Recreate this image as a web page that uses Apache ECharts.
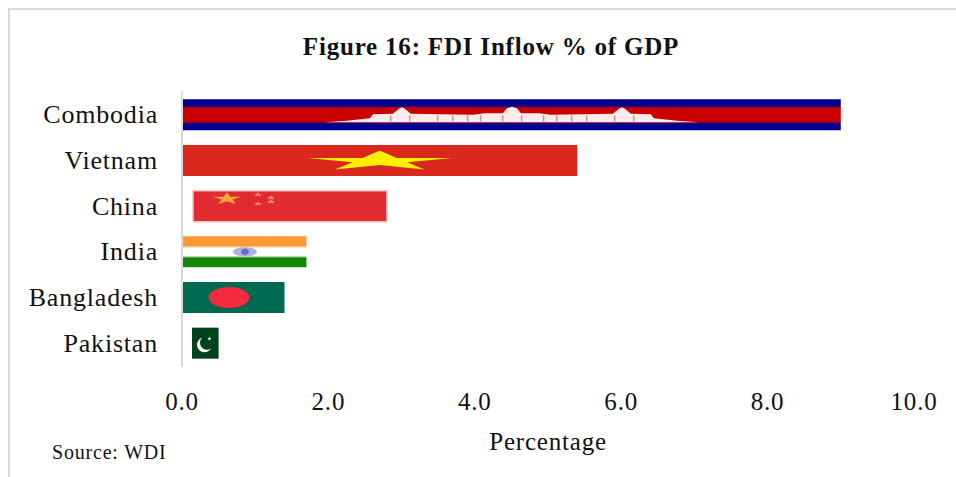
<!DOCTYPE html>
<html>
<head>
<meta charset="utf-8">
<title>FDI Inflow</title>
<script src="https://cdn.jsdelivr.net/npm/echarts@6/dist/echarts.min.js"></script>
<style>
	* {
		margin: 0;
		padding: 0;
	}

	body {
		background: #fff;
	}

	#main {
		width: 956px;
		height: 477px;
	}

	#main text {
		letter-spacing: 0.8px;
	}
</style>
</head>
<body>
<div id="main"></div>
<script>
	var categories = ['Combodia', 'Vietnam', 'China', 'India', 'Bangladesh', 'Pakistan'];
	var fdiValues = [9.0, 5.4, 2.8, 1.7, 1.4, 0.5];
	var xTicks = [0, 2, 4, 6, 8, 10];

	var serif = '"Liberation Serif", serif';

	// five point star, squashed to the flag
	function star(cx, cy, rx, ry, fill) {
		var pts = [];
		for (var i = 0; i < 10; i++) {
			var r = i % 2 ? 0.38 : 1;
			var a = -Math.PI / 2 + i * Math.PI / 5;
			pts.push([cx + rx * r * Math.cos(a), cy + ry * r * Math.sin(a)]);
		}
		return {type: 'polygon', shape: {points: pts}, style: {fill: fill}};
	}

	function rect(x, y, w, h, fill) {
		return {type: 'rect', shape: {x: x, y: y, width: w, height: h}, style: {fill: fill}};
	}

	function vGrad(stops) {
		return new echarts.graphic.LinearGradient(0, 0, 0, 1, stops.map(function(s) {
			return {offset: s[0], color: s[1]};
		}));
	}

	function cambodia(x, y, w, h) {
		var c = x + w / 2;
		var half = [[187, 23], [165, 21.5], [142, 19], [139, 15], [119, 14.5], [113, 9.5], [110, 8], [107, 9.5], [101, 14.5], [39, 15.5], [27, 14], [9, 14], [5, 9], [0, 7.5]];
		var pts = [];
		half.forEach(function(p) {
			pts.push([c - p[0], y + p[1]]);
		});
		half.slice().reverse().forEach(function(p) {
			pts.push([c + p[0], y + p[1]]);
		});
		var list = [
			rect(x, y, w, h, vGrad([[0, '#000090'], [0.2, '#000090'], [0.29, '#c80000'], [0.71, '#c80000'], [0.8, '#000090'], [1, '#000090']])),
			{type: 'polygon', shape: {points: pts}, style: {fill: '#fff', opacity: 0.92}}
		];
		// the small dark gaps in the temple
		[-122, -103, -75, -60, -45, -32, -10, 9, 31, 44, 59, 74, 102, 121].forEach(function(d) {
			list.push(rect(c + d, y + 16, 1.5, 6, '#e08a8e'));
		});
		return list;
	}

	function vietnam(x, y, w, h) {
		return [
			rect(x, y, w, h, '#da291c'),
			star(x + w * 0.499, y + h * 0.52, 76, 10.5, '#ffef00')
		];
	}

	function china(x, y, w, h) {
		var left = x + 10;
		var list = [
			{
				type: 'rect',
				shape: {x: left, y: y, width: w - 10, height: h},
				style: {fill: '#e22b30', stroke: '#f8c0c0', lineWidth: 1.5}
			},
			star(left + 34, y + 8, 15, 6.5, '#f4a83a')
		];
		[[65, 4], [78, 7], [78, 11], [65, 13]].forEach(function(p) {
			list.push(star(left + p[0], y + p[1], 5, 2.5, '#ee8f7c'));
		});
		return list;
	}

	function india(x, y, w, h) {
		return [
			rect(x, y, w, h, vGrad([[0, '#ff9933'], [0.3, '#ff9933'], [0.38, '#fff'], [0.63, '#fff'], [0.7, '#138808'], [1, '#138808']])),
			{type: 'ellipse', shape: {cx: x + 62, cy: y + h / 2, rx: 12, ry: 4.5}, style: {fill: '#b0b0e0'}},
			{type: 'ellipse', shape: {cx: x + 62, cy: y + h / 2, rx: 4, ry: 3}, style: {fill: '#6a6ac4'}}
		];
	}

	function bangladesh(x, y, w, h) {
		return [
			rect(x, y, w, h, '#006a4e'),
			{type: 'ellipse', shape: {cx: x + 46, cy: y + h / 2, rx: 20.5, ry: 10.5}, style: {fill: '#f42a41'}}
		];
	}

	function pakistan(x, y, w, h) {
		var left = x + 9;
		return [
			rect(left, y, w - 9, h, '#01411c'),
			{type: 'circle', shape: {cx: left + 12.5, cy: y + h / 2 + 1.5, r: 7.5}, style: {fill: '#fff'}},
			{type: 'circle', shape: {cx: left + 15, cy: y + h / 2 - 0.5, r: 7}, style: {fill: '#01411c'}},
			star(left + 17.5, y + h / 2 - 4.5, 2.2, 2.2, '#fff')
		];
	}

	var flags = [cambodia, vietnam, china, india, bangladesh, pakistan];

	function renderFlag(params, api) {
		var idx = api.value(1);
		var start = api.coord([0, idx]);
		var end = api.coord([api.value(0), idx]);
		var h = 31;
		return {
			type: 'group',
			children: flags[idx](start[0] + 1, start[1] - h / 2, end[0] - start[0] - 1, h)
		};
	}

	var chart = echarts.init(document.getElementById('main'), null, {renderer: 'svg'});
	chart.setOption({
		animation: false,
		backgroundColor: '#fff',
		title: {
			text: 'Figure 16: FDI Inflow % of GDP',
			left: 486,
			top: 29,
			textAlign: 'center',
			textStyle: {
				fontFamily: serif,
				fontSize: 25,
				fontWeight: 'bold',
				color: '#111'
			}
		},
		grid: {
			left: 182,
			top: 92,
			width: 732,
			height: 274
		},
		xAxis: {
			type: 'value',
			min: 0,
			max: 10,
			interval: xTicks[1] - xTicks[0],
			name: 'Percentage',
			nameLocation: 'middle',
			nameGap: 63,
			nameTextStyle: {
				fontFamily: serif,
				fontSize: 25,
				color: '#111'
			},
			axisLine: {show: false},
			axisTick: {show: false},
			splitLine: {show: false},
			axisLabel: {
				margin: 23,
				fontFamily: serif,
				fontSize: 25,
				color: '#111',
				formatter: function(v) {
					return v.toFixed(1);
				}
			}
		},
		yAxis: {
			type: 'category',
			inverse: true,
			data: categories,
			axisLine: {
				lineStyle: {color: '#d9d9d9', width: 2}
			},
			axisTick: {show: false},
			axisLabel: {
				margin: 24,
				padding: [6, 0, 0, 0],
				fontFamily: serif,
				fontSize: 26,
				color: '#111'
			}
		},
		series: [{
			type: 'custom',
			coordinateSystem: 'cartesian2d',
			encode: {x: 0, y: 1},
			data: fdiValues.map(function(v, i) {
				return [v, i];
			}),
			renderItem: renderFlag
		}],
		graphic: [
			{type: 'rect', left: 8, top: 8, shape: {width: 948, height: 2}, style: {fill: '#d9d9d9'}},
			{type: 'rect', left: 8, top: 8, shape: {width: 2, height: 469}, style: {fill: '#d9d9d9'}},
			{
				type: 'text',
				left: 52,
				top: 442,
				style: {
					text: 'Source: WDI',
					font: '20px ' + serif,
					fill: '#111'
				}
			}
		]
	});
</script>
</body>
</html>
